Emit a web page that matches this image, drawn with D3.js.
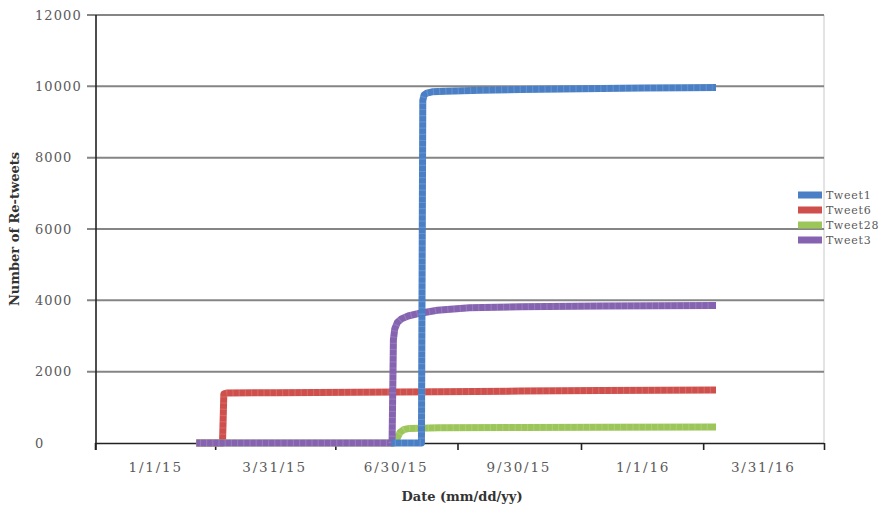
<!DOCTYPE html>
<html>
<head>
<meta charset="utf-8">
<script src="https://cdn.jsdelivr.net/npm/d3@7"></script>
<style>
  html, body { margin: 0; padding: 0; background: #fff; }
  svg { display: block; }
</style>
</head>
<body>
<svg id="chart" width="880" height="509"></svg>
<script>
// Re-tweet counts over time for four tweets
const seriesNames = ["Tweet1", "Tweet6", "Tweet28", "Tweet3"];
const seriesColors = ["#4a7fc6", "#cf4f4c", "#9cc65a", "#8563b0"];

const tweet1Dates = ["2015-06-29", "2015-07-19", "2015-07-20", "2015-07-21", "2015-07-23", "2015-07-27", "2015-08-06", "2015-09-01", "2015-10-01", "2015-11-01", "2015-12-01", "2016-01-01", "2016-02-01", "2016-02-22"];
const tweet1Values = [0, 0, 9600, 9760, 9810, 9845, 9865, 9890, 9910, 9925, 9940, 9950, 9960, 9965];

const tweet6Dates = ["2015-02-03", "2015-02-20", "2015-02-21", "2015-02-23", "2015-04-01", "2015-06-01", "2015-08-01", "2015-10-01", "2015-12-01", "2016-02-22"];
const tweet6Values = [0, 0, 1380, 1400, 1410, 1420, 1440, 1455, 1470, 1485];

const tweet28Dates = ["2015-02-03", "2015-06-29", "2015-07-01", "2015-07-03", "2015-07-06", "2015-07-10", "2015-08-01", "2015-10-01", "2015-12-01", "2016-02-22"];
const tweet28Values = [0, 0, 150, 300, 380, 410, 425, 435, 440, 450];

const tweet3Dates = ["2015-02-03", "2015-06-27", "2015-06-28", "2015-06-29", "2015-07-01", "2015-07-04", "2015-07-09", "2015-07-18", "2015-07-31", "2015-08-24", "2015-10-01", "2015-12-01", "2016-02-22"];
const tweet3Values = [0, 0, 2900, 3200, 3380, 3480, 3560, 3640, 3720, 3790, 3820, 3840, 3855];

const xTickLabels = ["1/1/15", "3/31/15", "6/30/15", "9/30/15", "1/1/16", "3/31/16"];
const yTicks = [0, 2000, 4000, 6000, 8000, 10000, 12000];

const parseISO = d3.timeParse("%Y-%m-%d");
const parseLabel = d3.timeParse("%m/%d/%y");

function toPoints(dates, values) {
  return dates.map((d, i) => ({ date: parseISO(d), value: values[i] }));
}
const series = [
  { name: "Tweet1", points: toPoints(tweet1Dates, tweet1Values), color: seriesColors[0] },
  { name: "Tweet6", points: toPoints(tweet6Dates, tweet6Values), color: seriesColors[1] },
  { name: "Tweet28", points: toPoints(tweet28Dates, tweet28Values), color: seriesColors[2] },
  { name: "Tweet3", points: toPoints(tweet3Dates, tweet3Values), color: seriesColors[3] }
];

const svg = d3.select("#chart");
const plot = { left: 95, right: 824, top: 15, bottom: 443 };

const x = d3.scaleTime()
  .domain([new Date(2014, 10, 16, 12), new Date(2016, 4, 15, 12)])
  .range([plot.left, plot.right]);
const y = d3.scaleLinear().domain([0, 12000]).range([plot.bottom, plot.top]);

// right border of the plot area
svg.append("line")
  .attr("x1", plot.right).attr("x2", plot.right)
  .attr("y1", plot.top).attr("y2", plot.bottom)
  .attr("stroke", "#c8c8c8").attr("stroke-width", 1);

// horizontal gridlines (with short outside ticks)
svg.append("g").selectAll("line")
  .data(yTicks.filter(v => v > 0))
  .join("line")
  .attr("x1", plot.left - 8).attr("x2", plot.right)
  .attr("y1", d => y(d)).attr("y2", d => y(d))
  .attr("stroke", "#858585").attr("stroke-width", 2);

// y tick labels
svg.append("g").selectAll("text")
  .data(yTicks)
  .join("text")
  .attr("x", 35).attr("y", d => y(d))
  .attr("dy", "0.36em")
  .attr("font-family", "DejaVu Serif")
  .attr("font-size", 13)
  .attr("letter-spacing", 1.1)
  .attr("fill", "#5a5a5a")
  .text(d => d);

// x axis: tick marks at the boundaries between labelled periods
const labelDates = xTickLabels.map(parseLabel);
const boundaries = [x.domain()[0]];
for (let i = 0; i < labelDates.length - 1; i++) {
  boundaries.push(new Date((+labelDates[i] + +labelDates[i + 1]) / 2));
}
boundaries.push(x.domain()[1]);

svg.append("g")
  .attr("transform", `translate(0,${plot.bottom})`)
  .call(d3.axisBottom(x).tickValues(boundaries).tickSize(7).tickFormat(""))
  .call(g => g.select(".domain").attr("stroke", "#222").attr("stroke-width", 1.6).attr("d", `M${plot.left},0.5H${plot.right}`))
  .call(g => g.selectAll(".tick line").attr("stroke", "#222").attr("stroke-width", 1.6));

svg.append("g").selectAll("text")
  .data(xTickLabels)
  .join("text")
  .attr("x", (d, i) => x(labelDates[i]))
  .attr("y", 472)
  .attr("text-anchor", "middle")
  .attr("font-family", "DejaVu Serif")
  .attr("font-size", 13.5)
  .attr("letter-spacing", 1.8)
  .attr("fill", "#5a5a5a")
  .text(d => d);

// y axis line
svg.append("line")
  .attr("x1", plot.left + 1).attr("x2", plot.left + 1)
  .attr("y1", plot.top).attr("y2", plot.bottom + 7)
  .attr("stroke", "#222").attr("stroke-width", 1.6);

// series lines, drawn in stacking order, with a faint marker texture on top
const line = d3.line().x(d => x(d.date)).y(d => y(d.value));
const drawOrder = ["Tweet6", "Tweet28", "Tweet3", "Tweet1"];
const lines = svg.append("g").selectAll("g")
  .data(drawOrder.map(n => series.find(s => s.name === n)))
  .join("g");
lines.append("path")
  .attr("d", d => line(d.points))
  .attr("fill", "none")
  .attr("stroke", d => d.color)
  .attr("stroke-width", 7)
  .attr("stroke-linejoin", "round")
  .attr("stroke-linecap", "square");
lines.append("path")
  .attr("d", d => line(d.points))
  .attr("fill", "none")
  .attr("stroke", "#fff")
  .attr("stroke-opacity", 0.14)
  .attr("stroke-width", 7)
  .attr("stroke-dasharray", "1.2 5");

// legend
const legend = svg.append("g");
series.forEach((s, i) => {
  const ly = 195 + i * 15;
  legend.append("rect")
    .attr("x", 798).attr("y", ly - 3.5)
    .attr("width", 24).attr("height", 7)
    .attr("fill", s.color);
  legend.append("text")
    .attr("x", 826).attr("y", ly)
    .attr("dy", "0.36em")
    .attr("font-family", "DejaVu Serif")
    .attr("font-size", 11)
    .attr("letter-spacing", 0.8)
    .attr("fill", "#5a5a5a")
    .text(s.name);
});

// axis titles
svg.append("text")
  .attr("transform", "translate(19,229) rotate(-90)")
  .attr("text-anchor", "middle")
  .attr("font-family", "DejaVu Serif")
  .attr("font-weight", "bold")
  .attr("font-size", 13)
  .attr("fill", "#333")
  .text("Number of Re-tweets");

svg.append("text")
  .attr("x", 462).attr("y", 501)
  .attr("text-anchor", "middle")
  .attr("font-family", "DejaVu Serif")
  .attr("font-weight", "bold")
  .attr("font-size", 13)
  .attr("fill", "#333")
  .text("Date (mm/dd/yy)");
</script>
</body>
</html>
